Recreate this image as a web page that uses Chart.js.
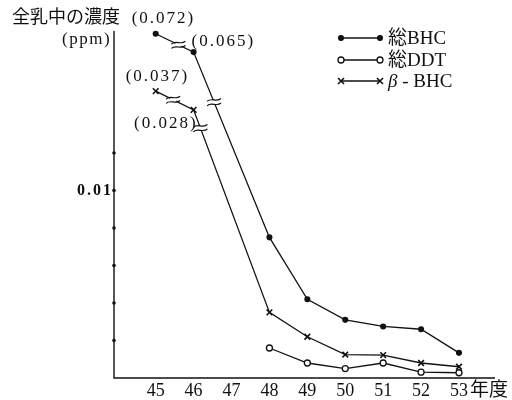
<!DOCTYPE html>
<html><head><meta charset="utf-8">
<script src="https://cdn.jsdelivr.net/npm/chart.js@4"></script>
<style>html,body{margin:0;padding:0;background:#fff}#wrap{width:512px;height:400px;position:relative}</style>
</head><body><div id="wrap"><canvas id="c" width="512" height="400"></canvas></div>
<script>
// Data (fiscal years, Showa era)
const years = [45, 46, 47, 48, 49, 50, 51, 52, 53];
// Values above the axis break are plotted at their broken-axis positions; real values in labels
const bhc     = [0.01836, 0.01738, null, 0.0075, 0.0042, 0.0031, 0.00275, 0.0026, 0.00134];
const ddt     = [null, null, null, 0.0016, 0.0008, 0.0005, 0.0008, 0.00031, 0.00028];
const betaBhc = [0.0153, 0.0143, null, 0.0035, 0.0022, 0.00125, 0.00122, 0.0008, 0.0006];
const brokenLabels = ["(0.072)", "(0.065)", "(0.037)", "(0.028)"];
const seriesNames = ["総BHC", "総DDT", "β - BHC"];
const yTickValues = [0.002, 0.004, 0.006, 0.008, 0.010, 0.012];
const yLabelValue = 0.01;
const yLabelText = "0.01";
const axisTopValue = 0.0185;

const SERIF = "'Liberation Serif','Noto Sans CJK JP',serif";
const toXY = arr => years.map((y, i) => ({x: y, y: arr[i]})).filter(p => p.y !== null);

const base = {borderColor:'#111', borderWidth:1.3, pointBorderColor:'#111', tension:0, spanGaps:true};
const datasets = [
  Object.assign({}, base, {label:seriesNames[0], data:toXY(bhc), pointStyle:'circle', pointRadius:2.4, pointBackgroundColor:'#111'}),
  Object.assign({}, base, {label:seriesNames[1], data:toXY(ddt), pointStyle:'circle', pointRadius:3, pointBorderWidth:1.3, pointBackgroundColor:'#fff'}),
  Object.assign({}, base, {label:seriesNames[2], data:toXY(betaBhc), pointStyle:'crossRot', pointRadius:4, pointBorderWidth:1.6})
];

function breakMark(ctx, x, y) {
  ctx.save();
  ctx.fillStyle = '#fff';
  ctx.fillRect(x - 3, y - 2, 6, 4);
  ctx.strokeStyle = '#111';
  ctx.lineWidth = 1.2;
  [-2.2, 2.2].forEach(o => {
    ctx.beginPath();
    ctx.moveTo(x - 7, y + o + 1.5);
    ctx.bezierCurveTo(x - 3, y + o - 3, x + 3, y + o + 3, x + 7, y + o - 1.5);
    ctx.stroke();
  });
  ctx.restore();
}

const decor = {
  id: 'decor',
  afterDatasetsDraw(chart) {
    const ctx = chart.ctx, xs = chart.scales.x, ys = chart.scales.y;
    const ca = chart.chartArea;
    ctx.save();
    ctx.strokeStyle = '#111';
    ctx.lineWidth = 1.4;
    // axes
    const x0 = ca.left, y0 = ca.bottom;
    ctx.beginPath();
    ctx.moveTo(x0, ys.getPixelForValue(axisTopValue));
    ctx.lineTo(x0, y0);
    ctx.lineTo(ca.right, y0);
    ctx.stroke();
    // y tick marks
    ctx.fillStyle = '#111';
    yTickValues.forEach(v => {
      const py = ys.getPixelForValue(v);
      ctx.beginPath(); ctx.arc(x0, py, 1.8, 0, Math.PI * 2); ctx.fill();
    });
    // y tick label
    ctx.font = 'bold 16px ' + SERIF;
    ctx.letterSpacing = '2px';
    ctx.textAlign = 'right';
    ctx.textBaseline = 'middle';
    ctx.fillText(yLabelText, x0 - 1, ys.getPixelForValue(yLabelValue));
    // break marks on segments
    const seg = (arr, i, j, t) => {
      const ax = xs.getPixelForValue(years[i]), ay = ys.getPixelForValue(arr[i]);
      const bx = xs.getPixelForValue(years[j]), by = ys.getPixelForValue(arr[j]);
      breakMark(ctx, ax + (bx - ax) * t, ay + (by - ay) * t);
    };
    seg(bhc, 0, 1, 0.6);
    seg(betaBhc, 0, 1, 0.46);
    seg(bhc, 1, 3, 0.27);
    seg(betaBhc, 1, 3, 0.09);
    // value labels for broken points
    ctx.fillStyle = '#111';
    ctx.font = '17px ' + SERIF;
    ctx.letterSpacing = '2px';
    ctx.textBaseline = 'middle';
    const P = (arr, i) => [xs.getPixelForValue(years[i]), ys.getPixelForValue(arr[i])];
    let p;
    ctx.textAlign = 'left';
    p = P(bhc, 0); ctx.fillText(brokenLabels[0], p[0] - 24, p[1] - 15);
    p = P(bhc, 1); ctx.fillText(brokenLabels[1], p[0] - 2, p[1] - 11);
    p = P(betaBhc, 0); ctx.fillText(brokenLabels[2], p[0] - 30, p[1] - 15);
    ctx.textAlign = 'right';
    p = P(betaBhc, 1); ctx.fillText(brokenLabels[3], p[0] + 4, p[1] + 14);
    // axis titles
    ctx.letterSpacing = '0px';
    ctx.textAlign = 'left';
    ctx.font = '18px ' + SERIF;
    ctx.fillText('全乳中の濃度', 12, 18);
    ctx.font = '17px ' + SERIF;
    ctx.letterSpacing = '1.5px';
    ctx.fillText('(ppm)', 62, 40);
    ctx.letterSpacing = '0px';
    ctx.font = '19px ' + SERIF;
    ctx.fillText('年度', 470, 391);
    // legend
    const rows = [38, 60, 81];
    chart.data.datasets.forEach((ds, i) => {
      const y = rows[i];
      ctx.strokeStyle = '#111'; ctx.lineWidth = 1.3;
      ctx.beginPath(); ctx.moveTo(341, y); ctx.lineTo(380, y); ctx.stroke();
      [341, 380].forEach(x => {
        ctx.save();
        ctx.strokeStyle = '#111';
        if (ds.pointStyle === 'circle') {
          ctx.fillStyle = ds.pointBackgroundColor;
          ctx.lineWidth = ds.pointBorderWidth || 1.3;
          ctx.beginPath(); ctx.arc(x, y, ds.pointRadius, 0, Math.PI * 2); ctx.fill(); ctx.stroke();
        } else {
          ctx.lineWidth = 1.6;
          const r = 3;
          ctx.beginPath(); ctx.moveTo(x - r, y - r); ctx.lineTo(x + r, y + r); ctx.moveTo(x - r, y + r); ctx.lineTo(x + r, y - r); ctx.stroke();
        }
        ctx.restore();
      });
      ctx.fillStyle = '#111';
      ctx.textAlign = 'left';
      if (i === 2) {
        ctx.font = 'italic 19px ' + SERIF;
        ctx.fillText('β', 388, y + 1);
        const w = ctx.measureText('β').width;
        ctx.font = '19px ' + SERIF;
        ctx.fillText(ds.label.slice(1), 388 + w, y + 1);
      } else {
        ctx.font = '19px ' + SERIF;
        ctx.fillText(ds.label, 388, y + 1);
      }
    });
    ctx.restore();
  }
};

new Chart(document.getElementById('c'), {
  type: 'line',
  data: {datasets},
  options: {
    responsive: false,
    animation: false,
    events: [],
    layout: {padding: {top: 20, right: 17, left: 0, bottom: 0}},
    plugins: {legend: {display: false}, tooltip: {enabled: false}},
    scales: {
      x: {
        type: 'linear', min: 43.9, max: 53.95,
        afterBuildTicks: s => { s.ticks = years.map(v => ({value: v})); },
        afterFit: s => { s.height = 22; },
        grid: {display: false, drawTicks: false},
        border: {display: false},
        ticks: {color: '#111', padding: 2, font: {family: SERIF, size: 18}, callback: v => String(v), maxRotation: 0, autoSkip: false}
      },
      y: {
        type: 'linear', min: 0, max: 0.019093,
        afterBuildTicks: s => { s.ticks = [{value: yLabelValue}]; },
        afterFit: s => { s.width = 114; },
        grid: {display: false, drawTicks: false},
        border: {display: false},
        ticks: {display: false}
      }
    }
  },
  plugins: [decor]
});
</script></body></html>
